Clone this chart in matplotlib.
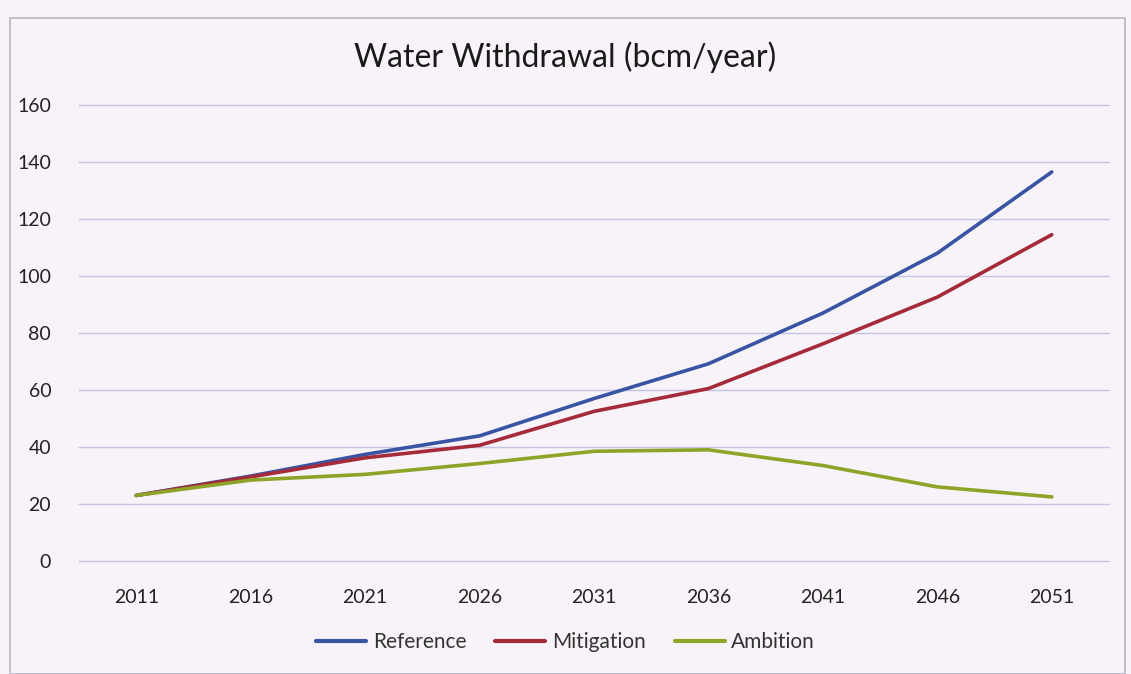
import matplotlib
matplotlib.use("Agg")
import matplotlib.pyplot as plt
from matplotlib.patches import Rectangle

years = ["2011", "2016", "2021", "2026", "2031", "2036", "2041", "2046", "2051"]
reference = [23, 29.8, 37.4, 43.9, 57.0, 69.2, 87.0, 108.0, 136.5]
mitigation = [23, 29.5, 36.2, 40.6, 52.5, 60.5, 76.2, 92.6, 114.5]
ambition = [23, 28.4, 30.4, 34.2, 38.5, 39.0, 33.5, 26.0, 22.5]
series_names = ["Reference", "Mitigation", "Ambition"]
colors = ["#3a54a4", "#a52a3a", "#8ea428"]
yticks = [0, 20, 40, 60, 80, 100, 120, 140, 160]

plt.rcParams['font.family'] = ['Lato', 'DejaVu Sans']

fig = plt.figure(figsize=(11.31, 6.74), dpi=100, facecolor="#f8f3f8")
ax = fig.add_axes([79/1131, 1-561/674, (1109-79)/1131, (561-105)/674])
ax.set_facecolor("#f8f3f8")

x = list(range(len(years)))
for name, vals, c in zip(series_names, [reference, mitigation, ambition], colors):
    ax.plot(x, vals, color=c, lw=2.6, label=name, solid_capstyle="round")

ax.set_xlim(-0.5, len(years) - 0.5)
ax.set_ylim(0, 160)
ax.set_yticks(yticks)
ax.set_yticklabels([str(v) for v in yticks], fontsize=14, color="#222222")
ax.set_xticks(x)
ax.set_xticklabels(years, fontsize=14, color="#222222")
ax.tick_params(axis="both", length=0)
ax.tick_params(axis="y", pad=20)
ax.tick_params(axis="x", pad=20)
ax.grid(axis="y", color="#c4c4e4", lw=1.0)
for gl in ax.get_ygridlines():
    gl.set_clip_on(False)
ax.set_axisbelow(True)
for s in ax.spines.values():
    s.set_visible(False)

fig.text(0.5, 1-57/674, "Water Withdrawal (bcm/year)", ha="center", va="center",
         fontsize=23, color="#1a1a1a")

leg = fig.legend(loc="center", bbox_to_anchor=(0.5, 1-642/674), ncol=3, frameon=False,
                 fontsize=15, handlelength=2.4, columnspacing=1.4, handletextpad=0.3)
for t in leg.get_texts():
    t.set_color("#333333")
for h in leg.legend_handles:
    h.set_linewidth(3.0)

fig.patches.append(Rectangle((10/1131, 0), (1125-10)/1131, 1-18/674, transform=fig.transFigure,
                             fill=False, edgecolor="#b8b8c0", lw=1.2))

fig.savefig("out.png", dpi=100, facecolor=fig.get_facecolor())
